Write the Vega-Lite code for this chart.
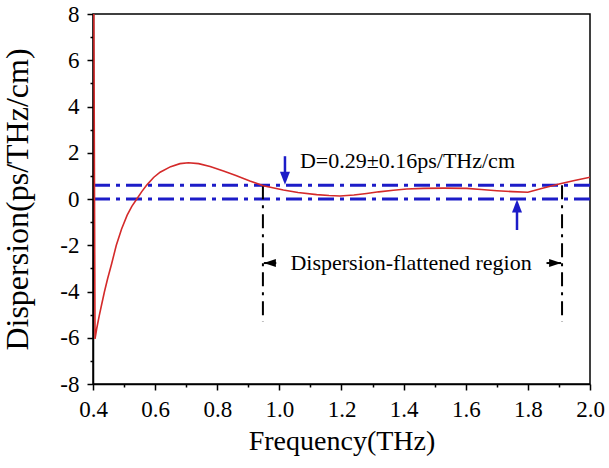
{
  "$schema": "https://vega.github.io/schema/vega-lite/v6.json",
  "width": 497,
  "height": 370,
  "autosize": {"type": "none"},
  "padding": {"left": 93, "top": 14, "right": 19, "bottom": 84},
  "background": "white",
  "config": {
    "view": {"stroke": "black", "strokeWidth": 1.5},
    "font": "Liberation Serif",
    "axis": {"labelColor": "black", "titleColor": "black", "titleFontWeight": "normal", "grid": false}
  },
  "datasets": {
    "curve": [
      {"f": 0.4025, "d": 9},
      {"f": 0.4065, "d": -6.05},
      {"f": 0.412, "d": -5.6},
      {"f": 0.42, "d": -5.05},
      {"f": 0.428, "d": -4.55},
      {"f": 0.437, "d": -4.0},
      {"f": 0.447, "d": -3.45},
      {"f": 0.46, "d": -2.8},
      {"f": 0.475, "d": -2.0},
      {"f": 0.492, "d": -1.3},
      {"f": 0.51, "d": -0.7},
      {"f": 0.525, "d": -0.32},
      {"f": 0.541, "d": 0.0},
      {"f": 0.557, "d": 0.32},
      {"f": 0.573, "d": 0.6},
      {"f": 0.595, "d": 0.93},
      {"f": 0.616, "d": 1.16},
      {"f": 0.65, "d": 1.4},
      {"f": 0.68, "d": 1.53},
      {"f": 0.707, "d": 1.57},
      {"f": 0.74, "d": 1.53},
      {"f": 0.777, "d": 1.41},
      {"f": 0.82, "d": 1.21},
      {"f": 0.86, "d": 1.02},
      {"f": 0.905, "d": 0.78},
      {"f": 0.948, "d": 0.57},
      {"f": 1.013, "d": 0.39},
      {"f": 1.06, "d": 0.28},
      {"f": 1.12, "d": 0.19},
      {"f": 1.16, "d": 0.15},
      {"f": 1.195, "d": 0.13},
      {"f": 1.24, "d": 0.17},
      {"f": 1.281, "d": 0.24},
      {"f": 1.32, "d": 0.31},
      {"f": 1.367, "d": 0.38},
      {"f": 1.41, "d": 0.43},
      {"f": 1.463, "d": 0.46},
      {"f": 1.53, "d": 0.47},
      {"f": 1.603, "d": 0.46},
      {"f": 1.65, "d": 0.41},
      {"f": 1.7, "d": 0.36},
      {"f": 1.75, "d": 0.32},
      {"f": 1.8, "d": 0.29},
      {"f": 1.85, "d": 0.48},
      {"f": 1.904, "d": 0.66},
      {"f": 1.95, "d": 0.8},
      {"f": 2.0, "d": 0.94}
    ],
    "hlines": [{"d": 0}, {"d": 0.6}],
    "vlines": [{"f": 0.947, "d": 0.6, "d2": -5.3}, {"f": 1.91, "d": 0.6, "d2": -5.3}],
    "shafts": [{"f": 0.95, "f2": 0.99, "d": -2.77}, {"f": 1.86, "f2": 1.907, "d": -2.77}],
    "bshafts": [{"f": 1.018, "d": 1.85, "d2": 1.1}, {"f": 1.765, "d": -1.34, "d2": -0.5}],
    "minor": [{"f": 0.5, "d": -7}, {"f": 2.0, "d": 8}]
  },
  "layer": [
    {
      "data": {"name": "hlines"},
      "mark": {"type": "rule", "color": "#1c1cc8", "strokeWidth": 3, "strokeDash": [16, 6, 4, 6]},
      "encoding": {
        "y": {"field": "d", "type": "quantitative", "scale": {"domain": [-8, 8], "nice": false}, "axis": null}
      }
    },
    {
      "data": {"name": "vlines"},
      "mark": {"type": "rule", "color": "black", "strokeWidth": 2, "strokeDash": [14, 6, 3, 6]},
      "encoding": {
        "x": {"field": "f", "type": "quantitative", "axis": null},
        "y": {"field": "d", "type": "quantitative", "axis": null},
        "y2": {"field": "d2"}
      }
    },
    {
      "data": {"name": "curve"},
      "mark": {"type": "line", "color": "#d42a2a", "strokeWidth": 1.6, "clip": true},
      "encoding": {
        "x": {
          "field": "f", "type": "quantitative",
          "scale": {"domain": [0.4, 2.0], "nice": false, "zero": false},
          "axis": {
            "title": "Frequency(THz)", "titleFontSize": 28, "titlePadding": 6, "titleFont": "Liberation Serif",
            "values": [0.4, 0.6, 0.8, 1.0, 1.2, 1.4, 1.6, 1.8, 2.0],
            "format": ".1f",
            "labelFont": "Liberation Serif", "labelFontSize": 23, "labelPadding": 8,
            "domainColor": "black", "domainWidth": 1.5,
            "tickColor": "black", "tickSize": 6, "tickWidth": 1.5,
            "labelFlush": false, "labelOverlap": false
          }
        },
        "y": {
          "field": "d", "type": "quantitative",
          "scale": {"domain": [-8, 8], "nice": false},
          "axis": {
            "title": "Dispersion(ps/THz/cm)", "titleFontSize": 32, "titlePadding": 25, "titleFont": "Liberation Serif",
            "values": [-8, -6, -4, -2, 0, 2, 4, 6, 8],
            "labelExpr": "toString(datum.value)",
            "labelFont": "Liberation Serif", "labelFontSize": 23, "labelPadding": 8,
            "domainColor": "black", "domainWidth": 1.5,
            "tickColor": "black", "tickSize": 6, "tickWidth": 1.5,
            "labelFlush": false, "labelOverlap": false
          }
        }
      }
    },
    {
      "data": {"name": "minor"},
      "mark": {"type": "point", "opacity": 0},
      "encoding": {
        "x": {
          "field": "f", "type": "quantitative",
          "axis": {"orient": "bottom", "title": null, "labels": false, "domain": false, "values": [0.5, 0.7, 0.9, 1.1, 1.3, 1.5, 1.7, 1.9], "tickSize": 3, "tickWidth": 1.5, "tickColor": "black"}
        },
        "y": {
          "field": "d", "type": "quantitative",
          "axis": {"orient": "left", "title": null, "labels": false, "domain": false, "values": [-7, -5, -3, -1, 1, 3, 5, 7], "tickSize": 3, "tickWidth": 1.5, "tickColor": "black"}
        }
      }
    },
    {
      "data": {"name": "shafts"},
      "mark": {"type": "rule", "color": "black", "strokeWidth": 2},
      "encoding": {
        "x": {"field": "f", "type": "quantitative", "axis": null},
        "x2": {"field": "f2"},
        "y": {"field": "d", "type": "quantitative", "axis": null}
      }
    },
    {
      "data": {"values": [{"f": 0.95, "d": -2.77, "s": "M0,0L3,-1L3,1Z"}, {"f": 1.907, "d": -2.77, "s": "M0,0L-3,-1L-3,1Z"}]},
      "mark": {"type": "point", "filled": true, "color": "black", "opacity": 1, "size": 64},
      "encoding": {
        "x": {"field": "f", "type": "quantitative", "axis": null},
        "y": {"field": "d", "type": "quantitative", "axis": null},
        "shape": {"field": "s", "type": "nominal", "scale": null, "legend": null}
      }
    },
    {
      "data": {"name": "bshafts"},
      "mark": {"type": "rule", "color": "#1c1cc8", "strokeWidth": 2.5},
      "encoding": {
        "x": {"field": "f", "type": "quantitative", "axis": null},
        "y": {"field": "d", "type": "quantitative", "axis": null},
        "y2": {"field": "d2"}
      }
    },
    {
      "data": {"values": [{"f": 1.018, "d": 0.62, "s": "M0,0L-1.25,-3.25L1.25,-3.25Z"}, {"f": 1.765, "d": -0.02, "s": "M0,0L-1.25,3.25L1.25,3.25Z"}]},
      "mark": {"type": "point", "filled": true, "color": "#1c1cc8", "opacity": 1, "size": 64},
      "encoding": {
        "x": {"field": "f", "type": "quantitative", "axis": null},
        "y": {"field": "d", "type": "quantitative", "axis": null},
        "shape": {"field": "s", "type": "nominal", "scale": null, "legend": null}
      }
    },
    {
      "data": {"values": [{"f": 1.066, "d": 1.34, "t": "D=0.29±0.16ps/THz/cm"}]},
      "mark": {"type": "text", "align": "left", "baseline": "alphabetic", "fontSize": 22, "font": "Liberation Serif", "color": "black"},
      "encoding": {
        "x": {"field": "f", "type": "quantitative", "axis": null},
        "y": {"field": "d", "type": "quantitative", "axis": null},
        "text": {"field": "t"}
      }
    },
    {
      "data": {"values": [{"f": 1.424, "d": -2.77, "t": "Dispersion-flattened region"}]},
      "mark": {"type": "text", "align": "center", "baseline": "middle", "fontSize": 22, "font": "Liberation Serif", "color": "black"},
      "encoding": {
        "x": {"field": "f", "type": "quantitative", "axis": null},
        "y": {"field": "d", "type": "quantitative", "axis": null},
        "text": {"field": "t"}
      }
    }
  ],
  "resolve": {"axis": {"x": "independent", "y": "independent"}}
}
